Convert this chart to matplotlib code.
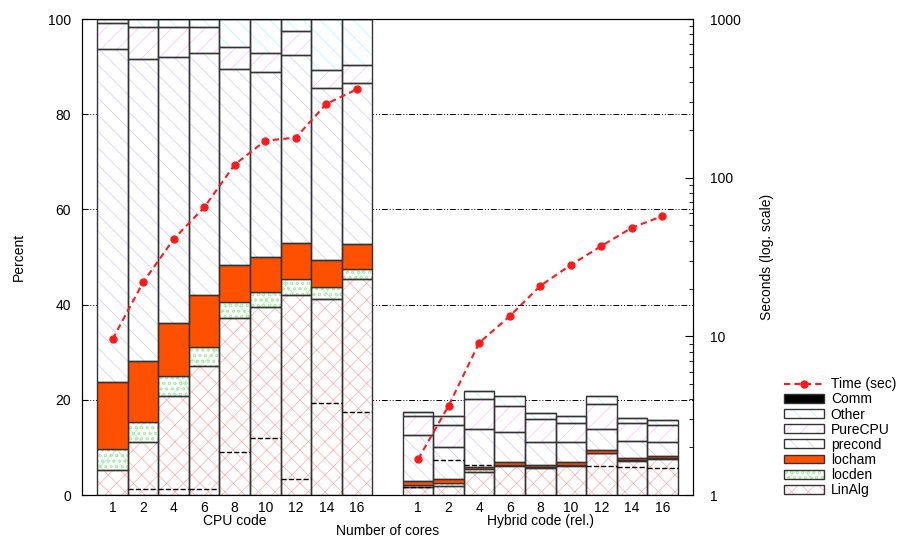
import numpy as np
import matplotlib.pyplot as plt
from matplotlib.patches import Patch
from matplotlib.lines import Line2D

plt.rcParams['font.family'] = ['Liberation Sans', 'DejaVu Sans']
plt.rcParams['hatch.linewidth'] = 0.5

# --- data (percent of run time per component) ---
cores = ['1', '2', '4', '6', '8', '10', '12', '14', '16']

cpu_linalg  = [5.3, 11.1, 20.9, 27.2, 37.2, 39.6, 42.0, 41.2, 45.4]
cpu_locden  = [4.3, 4.2, 4.2, 4.0, 3.4, 3.1, 3.4, 2.4, 2.1]
cpu_locham  = [14.1, 12.9, 11.1, 10.8, 7.7, 7.2, 7.5, 5.8, 5.2]
cpu_precond = [70.0, 63.4, 55.9, 50.9, 41.1, 38.9, 39.5, 36.2, 33.9]
cpu_purecpu = [5.5, 6.8, 6.3, 5.5, 4.8, 4.1, 5.1, 3.6, 3.7]
cpu_other   = [0.8, 1.6, 1.6, 1.6, 5.8, 7.1, 2.5, 10.8, 9.7]
cpu_comm    = [0, 0, 0, 0, 0, 0, 0, 0, 0]
cpu_dash    = [np.nan, 1.3, 1.3, 1.3, 9.1, 11.9, 3.3, 19.4, 17.5]
cpu_time    = [9.6, 21.9, 41, 65, 121, 171, 179, 292, 361]

hyb_linalg  = [1.6, 1.9, 4.8, 6.2, 5.6, 6.1, 8.8, 7.2, 7.6]
hyb_locden  = [0.6, 0.6, 0.6, 0.2, 0.2, 0.3, 0.1, 0.1, 0.1]
hyb_locham  = [0.7, 0.9, 0.4, 0.6, 0.6, 0.6, 0.5, 0.5, 0.5]
hyb_precond = [9.7, 6.7, 8.0, 6.3, 4.8, 4.1, 4.5, 3.6, 3.0]
hyb_purecpu = [4.1, 4.7, 6.3, 5.5, 4.7, 4.0, 5.2, 3.8, 3.6]
hyb_other   = [0.8, 1.9, 1.8, 1.9, 1.3, 1.4, 1.7, 0.9, 1.0]
hyb_comm    = [0, 0, 0, 0, 0, 0, 0, 0, 0]
hyb_dash    = [1.7, 7.3, 6.3, np.nan, np.nan, np.nan, 6.1, 5.8, 5.6]
hyb_time    = [1.68, 3.65, 9.1, 13.4, 20.8, 28.2, 37.1, 48.4, 57.3]

# name, solid fill, hatch, hatch colour
styles = [
    ('LinAlg',  'white',   'xx',   '#ffaaaa'),
    ('locden',  'white',   'xooo', '#aaeeaa'),
    ('locham',  '#ff5000', None,   None),
    ('precond', 'white',   '\\\\', '#ccccff'),
    ('PureCPU', 'white',   '//',   '#ffbbff'),
    ('Other',   'white',   '\\\\', '#99ffff'),
    ('Comm',    'black',   None,   None),
]
cpu_parts = [cpu_linalg, cpu_locden, cpu_locham, cpu_precond, cpu_purecpu, cpu_other, cpu_comm]
hyb_parts = [hyb_linalg, hyb_locden, hyb_locham, hyb_precond, hyb_purecpu, hyb_other, hyb_comm]

x_cpu = np.arange(9)
x_hyb = np.arange(9) + 10
edge = '#333333'

fig = plt.figure(figsize=(9.04, 5.39), dpi=100)
ax = fig.add_axes([0.0907, 0.0816, 0.6759, 0.8831])
ax2 = ax.twinx()

# dash-dot grid lines behind the bars
for g in [20, 40, 60, 80]:
    ax.axhline(g, color='black', lw=0.7, ls=(0, (6, 2, 1, 2, 1, 2)), zorder=0)

def stack(xs, parts):
    bottom = np.zeros(len(xs))
    for (name, fc, hatch, hc), vals in zip(styles, parts):
        vals = np.array(vals, dtype=float)
        if hatch:
            ax.bar(xs, vals, 1.0, bottom=bottom, color=fc, hatch=hatch,
                   edgecolor=hc, lw=0, zorder=2)
            ax.bar(xs, vals, 1.0, bottom=bottom, fill=False,
                   edgecolor=edge, lw=1.0, zorder=3)
        else:
            ax.bar(xs, vals, 1.0, bottom=bottom, color=fc,
                   edgecolor=edge, lw=1.0, zorder=3)
        bottom += vals

stack(x_cpu, cpu_parts)
stack(x_hyb, hyb_parts)

ax.hlines(cpu_dash, x_cpu - 0.5, x_cpu + 0.5, colors='black', linestyles='--', lw=1.0, zorder=4)
ax.hlines(hyb_dash, x_hyb - 0.5, x_hyb + 0.5, colors='black', linestyles='--', lw=1.0, zorder=4)

ax.set_xlim(-1, 19)
ax.set_ylim(0, 100)
ax.set_yticks([0, 20, 40, 60, 80, 100])
ax.set_xticks(np.concatenate([x_cpu, x_hyb]))
ax.set_xticklabels(cores + cores)
ax.tick_params(axis='x', length=0, pad=4, labelsize=10)
ax.tick_params(axis='y', direction='in', length=4, pad=8, labelsize=10)
ax.set_ylabel('Percent', fontsize=10)
ax.yaxis.set_label_coords(-0.092, 0.5)

# time on log scale
tkw = dict(color='#ff1a1a', lw=1.5, ls=(0, (3, 2)), marker='o', ms=5, zorder=5)
ax2.plot(x_cpu, cpu_time, **tkw)
ax2.plot(x_hyb, hyb_time, **tkw)
ax2.set_yscale('log')
ax2.set_ylim(1, 1000)
ax2.set_yticks([1, 10, 100, 1000])
ax2.set_yticklabels(['1', '10', '100', '1000'])
ax2.tick_params(axis='y', which='major', direction='in', length=6, pad=12, labelsize=10)
ax2.tick_params(axis='y', which='minor', direction='in', length=3)
ax2.set_ylabel('Seconds (log. scale)', fontsize=10)
ax2.yaxis.set_label_coords(1.110, 0.5)

ax.text(4, -0.055, 'CPU code', ha='center', va='center', fontsize=10,
        transform=ax.get_xaxis_transform())
ax.text(14, -0.055, 'Hybrid code (rel.)', ha='center', va='center', fontsize=10,
        transform=ax.get_xaxis_transform())
ax.text(9, -0.075, 'Number of cores', ha='center', va='center', fontsize=10,
        transform=ax.get_xaxis_transform())

# legend
handles = [Line2D([], [], **tkw)]
labels = ['Time (sec)']
for name, fc, hatch, hc in reversed(styles):
    if hatch:
        h = (Patch(facecolor=fc, hatch=hatch, edgecolor=hc, lw=0),
             Patch(fill=False, edgecolor=edge, lw=1.0))
    else:
        h = Patch(facecolor=fc, edgecolor=edge, lw=1.0)
    handles.append(h)
    labels.append(name)
fig.legend(handles, labels, loc='upper left', bbox_to_anchor=(0.856, 0.318),
           frameon=False, fontsize=10, handlelength=2.9, handleheight=0.6,
           labelspacing=0.08, handletextpad=0.5, borderpad=0.2)

fig.savefig('out.png', dpi=100)
